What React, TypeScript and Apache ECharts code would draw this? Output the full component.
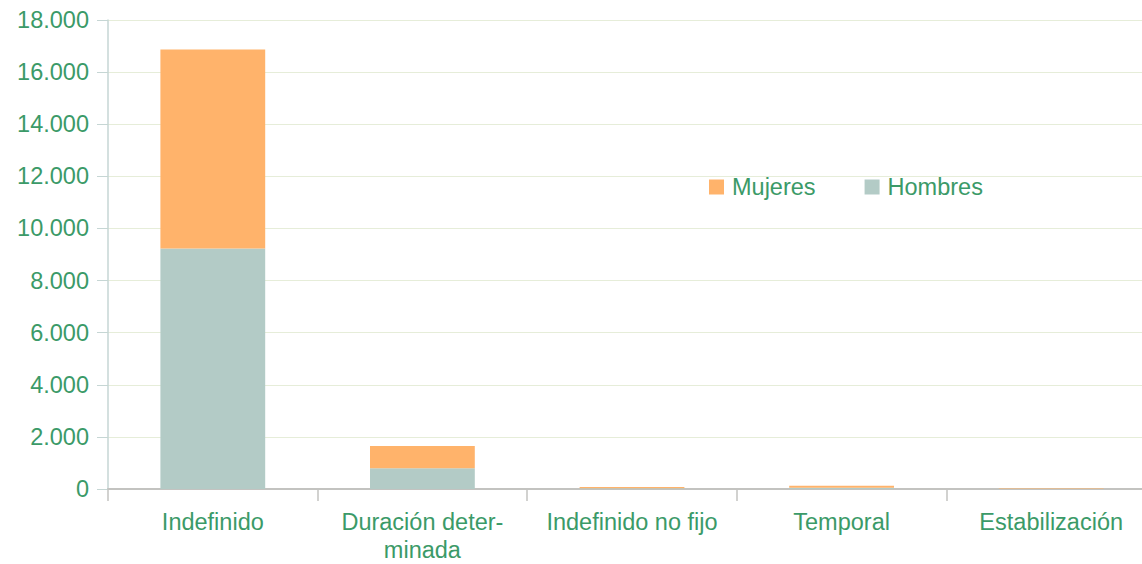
import React, { useEffect, useRef } from "react";
import * as echarts from "echarts";

const categories = ["Indefinido", "Duración deter-\nminada", "Indefinido no fijo", "Temporal", "Estabilización"];
const hombres = [9230, 800, 25, 45, 5];
const mujeres = [7640, 850, 55, 75, 25];

const GREEN = "#3b9a68";
const FONT = "'Liberation Sans', Arial, sans-serif";

export default function App() {
  const ref = useRef<HTMLDivElement>(null);
  useEffect(() => {
    const chart = echarts.init(ref.current!, undefined, { renderer: "svg" });
    chart.setOption({
      animation: false,
      textStyle: { fontFamily: FONT },
      grid: { left: 108, right: 0, top: 20, bottom: 72 },
      legend: {
        data: ["Mujeres", "Hombres"],
        left: 704,
        top: 170,
        itemWidth: 15,
        itemHeight: 15,
        itemGap: 49,
        icon: "rect",
        textStyle: { color: GREEN, fontSize: 23.5, fontFamily: FONT, padding: [0, 0, 0, 3] },
      },
      xAxis: {
        type: "category",
        data: categories,
        axisLine: { lineStyle: { color: "#c3c3c0", width: 2 } },
        axisTick: { show: true, length: 12, lineStyle: { color: "#c3c3c0", width: 1.5 } },
        axisLabel: { color: GREEN, fontSize: 23.5, margin: 19, lineHeight: 28, interval: 0 },
      },
      yAxis: {
        type: "value",
        min: 0,
        max: 18000,
        interval: 2000,
        axisLine: { show: true, lineStyle: { color: "#c6d6d4", width: 1.5 } },
        axisTick: { show: true, length: 11, lineStyle: { color: "#c6d6d4" } },
        splitLine: { lineStyle: { color: "#e6edd9", width: 1 } },
        axisLabel: {
          color: GREEN,
          fontSize: 23.5,
          margin: 19,
          formatter: (v: number) => v.toLocaleString("de-DE"),
        },
      },
      series: [
        {
          name: "Hombres",
          type: "bar",
          stack: "total",
          data: hombres,
          barWidth: "50%",
          itemStyle: { color: "#b3cbc6" },
        },
        {
          name: "Mujeres",
          type: "bar",
          stack: "total",
          data: mujeres,
          barWidth: "50%",
          itemStyle: { color: "#ffb36b" },
        },
      ],
    });
    return () => chart.dispose();
  }, []);
  return (
    <div style={{ position: "absolute", left: 0, top: 0, width: 1142, height: 564, overflow: "hidden", background: "#fff" }}>
      <div ref={ref} style={{ width: 1156, height: 564 }} />
    </div>
  );
}
